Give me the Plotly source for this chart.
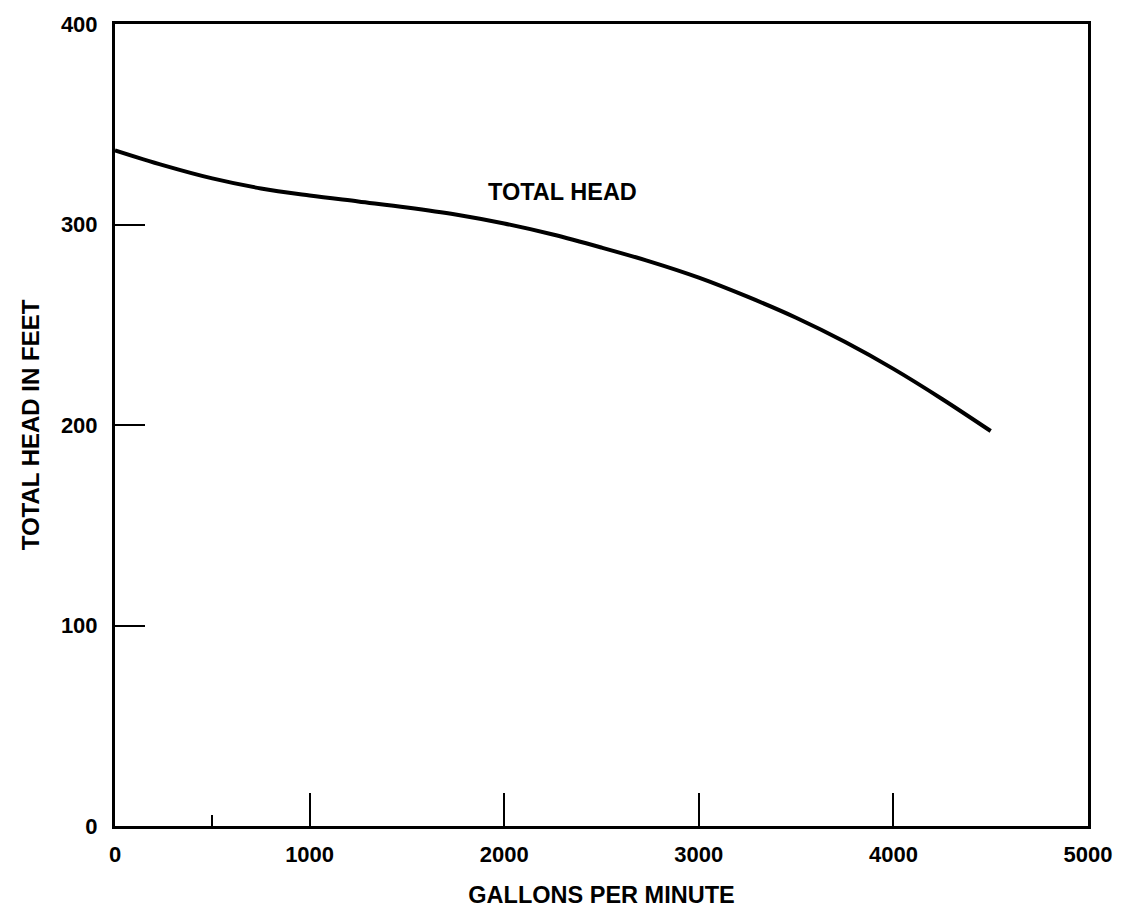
import plotly.graph_objects as go

# pump curve
gpm = [0, 250, 500, 750, 1000, 1250, 1500, 1750, 2000, 2250, 2500,
       2750, 3000, 3250, 3500, 3750, 4000, 4250, 4500]
head_ft = [337, 329.5, 323, 318, 314.5, 311.5, 308.5, 305, 300.5, 295, 288.5,
           281.5, 273.5, 264, 253.5, 241.5, 228, 213, 197]

x_ticks = [0, 1000, 2000, 3000, 4000, 5000]
y_ticks = [0, 100, 200, 300, 400]
minor_x_ticks = [500]

family = "Liberation Sans, Arial, sans-serif"
font = dict(family=family, size=22, color="black")

fig = go.Figure()
fig.add_trace(go.Scatter(
    x=gpm, y=head_ft, mode="lines",
    line=dict(color="black", width=4, shape="spline", smoothing=1),
    showlegend=False, hoverinfo="x+y",
))

fig.add_annotation(
    x=2300, y=316, text="<b>TOTAL HEAD</b>", showarrow=False,
    font=dict(family=family, size=23.5, color="black"),
)

fig.update_layout(
    width=1129, height=912,
    paper_bgcolor="white", plot_bgcolor="white",
    margin=dict(l=107, r=49, t=16, b=94),
    font=font,
    xaxis=dict(
        range=[0, 5000], tickvals=x_ticks,
        ticktext=["<b>%d</b>" % v for v in x_ticks],
        ticks="inside", ticklen=33, tickwidth=2, tickcolor="black",
        ticklabelstandoff=7, automargin=False,
        showline=True, linecolor="black", linewidth=3, mirror=True,
        showgrid=False, zeroline=False,
        title=dict(text="<b>GALLONS PER MINUTE</b>", standoff=21,
                   font=dict(family=family, size=23.5)),
    ),
    xaxis2=dict(
        range=[0, 5000], overlaying="x", tickvals=minor_x_ticks,
        ticks="inside", ticklen=11, tickwidth=2, tickcolor="black",
        showticklabels=False, showgrid=False, zeroline=False, showline=False,
        automargin=False,
    ),
    yaxis=dict(
        range=[0, 400], tickvals=y_ticks,
        ticktext=["<b>%d</b>" % v for v in y_ticks],
        ticks="inside", ticklen=30, tickwidth=2, tickcolor="black",
        ticklabelstandoff=10, automargin=False,
        showline=True, linecolor="black", linewidth=3, mirror=True,
        showgrid=False, zeroline=False,
        title=dict(text="<b>TOTAL HEAD IN FEET</b>", standoff=15,
                   font=dict(family=family, size=24)),
    ),
)

# invisible trace to bring the minor-tick axis into the figure
fig.add_trace(go.Scatter(x=[0], y=[0], xaxis="x2", mode="markers",
                         marker=dict(opacity=0), showlegend=False,
                         hoverinfo="skip"))

fig.write_html("out.html")
